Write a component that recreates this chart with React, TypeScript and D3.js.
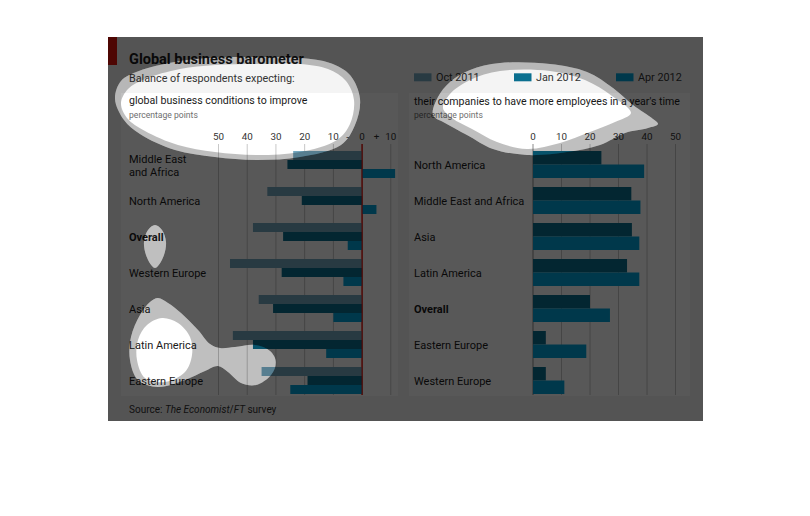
import * as d3 from 'd3';

// Balance of respondents, percentage points
const leftCategories = ['Middle East and Africa', 'North America', 'Overall', 'Western Europe', 'Asia', 'Latin America', 'Eastern Europe'];
const leftOct2011 = [-24, -33, -38, -46, -36, -45, -35];
const leftJan2012 = [-26, -21, -27.5, -28, -31, -38, -19];
const leftApr2012 = [11.5, 5, -5, -6.5, -10, -12.5, -25];

const rightCategories = ['North America', 'Middle East and Africa', 'Asia', 'Latin America', 'Overall', 'Eastern Europe', 'Western Europe'];
const rightJan2012 = [24, 34.5, 34.7, 33, 20, 4.5, 4.5];
const rightApr2012 = [39, 37.7, 37.3, 37.3, 27, 18.7, 11];

const SERIES = ['Oct 2011', 'Jan 2012', 'Apr 2012'];
const COLORS = ['#74a8c0', '#0a6f8f', '#00a3d9'];
const leftTicks = [-50, -40, -30, -20, -10, 0, 10];
const rightTicks = [0, 10, 20, 30, 40, 50];

// highlight shapes drawn over the dimmed picture
type Pt = [number, number];
const blobs: { halo: Pt[]; core?: Pt[] }[] = [
  {
    halo: [[115, 99], [121, 81], [139, 71], [175, 62], [208, 58], [258, 57], [301, 58], [330, 63], [350, 75], [360, 99], [355, 125], [341, 145], [300, 157], [258, 160], [215, 157], [175, 150], [140, 134], [124, 120]],
    core: [[121, 103], [128, 89], [145, 79], [180, 69], [215, 65], [258, 64], [300, 64], [328, 69], [346, 81], [354, 100], [350, 124], [337, 140], [300, 152], [258, 155], [215, 152], [178, 145], [145, 131], [127, 118]],
  },
  {
    halo: [[433, 115], [438, 97], [450, 82], [470, 70], [500, 63], [550, 64], [587, 72], [613, 88], [633, 105], [653, 119], [658, 124], [648, 128], [625, 133], [600, 145], [567, 152], [527, 155], [493, 149], [467, 135], [445, 123]],
    core: [[443, 108], [450, 94], [470, 80], [500, 71], [550, 71], [585, 80], [612, 96], [631, 113], [615, 122], [590, 132], [560, 143], [527, 149], [497, 142], [472, 129], [452, 118]],
  },
  {
    halo: [[155, 225], [162, 230], [166, 242], [164, 255], [158, 266], [155, 268], [152, 266], [146, 255], [144, 242], [148, 230]],
  },
  {
    halo: [[158, 298], [168, 303], [181, 313], [198, 330], [210, 344], [220, 348], [235, 347], [255, 345], [270, 351], [276, 362], [271, 375], [256, 385], [241, 383], [228, 372], [218, 366], [205, 371], [185, 380], [158, 387], [138, 380], [130, 360], [131, 337], [140, 315], [150, 302]],
    core: [[162, 318], [178, 323], [190, 337], [192, 355], [185, 372], [165, 382], [145, 378], [137, 360], [138, 340], [147, 325]],
  },
];

const FONT = 'Roboto, "Noto Sans", sans-serif';
const TEXT = '#1a1a1a';
const GREY_TEXT = '#6e6e6e';
const GRID = '#c8c8c8';
const RED = '#e3120b';

export default function App() {
  const W = 810;
  const H = 516;

  const xL = d3.scaleLinear().domain([-50, 10]).range([218.5, 390.8]);
  const xR = d3.scaleLinear().domain([0, 50]).range([533, 675.5]);

  const yL = d3.scaleBand<string>().domain(leftCategories).range([142, 403]).paddingInner(0.25).paddingOuter(0.25);
  const yR = d3.scaleBand<string>().domain(rightCategories).range([142, 403]).paddingInner(0.25).paddingOuter(0.25);
  const subL = d3.scaleBand<string>().domain(SERIES).range([0, yL.bandwidth()]);
  const subR = d3.scaleBand<string>().domain(SERIES.slice(1)).range([0, yR.bandwidth()]);

  const leftSeries = [leftOct2011, leftJan2012, leftApr2012];
  const rightSeries = [rightJan2012, rightApr2012];

  const line = d3.line().curve(d3.curveCatmullRomClosed.alpha(0.5));
  const frame = 'M108,37H703V421H108Z';
  const dimPath = frame + blobs.map(b => line(b.halo)).join('');
  const rings = blobs.map(b => line(b.halo) + (b.core ? line(b.core) : '')).join('');

  const labelLines = (c: string, split: boolean) =>
    split && c === 'Middle East and Africa' ? ['Middle East', 'and Africa'] : [c];

  return (
    <svg width={W} height={H} style={{ position: 'absolute', left: 0, top: 0 }} fontFamily={FONT}>
      <rect x={0} y={0} width={W} height={H} fill="#ffffff" />
      <rect x={108} y={37} width={595} height={384} fill="#f4f4f4" />
      <rect x={108} y={37} width={9} height={28} fill={RED} />
      <rect x={121} y={93} width={277} height={303} fill="#ffffff" />
      <rect x={409} y={93} width={281} height={303} fill="#ffffff" />

      <text x={129} y={63.5} fontSize={14.5} fontWeight={700} fill={TEXT}>Global business barometer</text>
      <text x={129} y={81.5} fontSize={10.8} fill="#333">Balance of respondents expecting:</text>

      {/* legend */}
      {SERIES.map((s, i) => {
        const lx = [414, 514, 616][i];
        return (
          <g key={s}>
            <rect x={lx} y={73.3} width={17.5} height={8} fill={COLORS[i]} />
            <text x={lx + 22} y={81.3} fontSize={10.8} fill="#333">{s}</text>
          </g>
        );
      })}

      {/* left chart */}
      <text x={129} y={103.7} fontSize={10.6} fill={TEXT}>global business conditions to improve</text>
      <text x={129} y={117.5} fontSize={8.6} fill={GREY_TEXT}>percentage points</text>
      {leftTicks.map(t => (
        <g key={t}>
          <line x1={xL(t)} x2={xL(t)} y1={144} y2={395} stroke={t === 0 ? RED : GRID} strokeWidth={1} />
          <text x={xL(t)} y={140} fontSize={9.8} textAnchor="middle" fill="#333">{Math.abs(t)}</text>
        </g>
      ))}
      <text x={xL(-5)} y={140} fontSize={9.8} textAnchor="middle" fill="#333">-</text>
      <text x={xL(5)} y={140} fontSize={9.8} textAnchor="middle" fill="#333">+</text>
      {leftCategories.map((c, ci) => (
        <g key={c}>
          {leftSeries.map((vals, si) => {
            const v = vals[ci];
            return (
              <rect key={si} x={Math.min(xL(v), xL(0))} y={(yL(c) ?? 0) + (subL(SERIES[si]) ?? 0)}
                width={Math.abs(xL(v) - xL(0))} height={subL.bandwidth()} fill={COLORS[si]} />
            );
          })}
          {labelLines(c, true).map((ln, li, arr) => (
            <text key={li} x={129} fontSize={11} fontWeight={c === 'Overall' ? 700 : 400} fill={TEXT}
              y={(yL(c) ?? 0) + yL.bandwidth() / 2 + (arr.length === 1 ? 4 : li === 0 ? -1.5 : 11.2)}>{ln}</text>
          ))}
        </g>
      ))}
      <line x1={xL(0)} x2={xL(0)} y1={144} y2={395} stroke={RED} strokeWidth={1} />

      {/* right chart */}
      <text x={414} y={104.5} fontSize={10.6} fill={TEXT}>their companies to have more employees in a year's time</text>
      <text x={414} y={117.5} fontSize={8.6} fill={GREY_TEXT}>percentage points</text>
      {rightTicks.map(t => (
        <g key={t}>
          <line x1={xR(t)} x2={xR(t)} y1={144} y2={395} stroke={t === 0 ? '#8a8a8a' : GRID} strokeWidth={1} />
          <text x={xR(t)} y={140} fontSize={9.8} textAnchor="middle" fill="#333">{t}</text>
        </g>
      ))}
      {rightCategories.map((c, ci) => (
        <g key={c}>
          {rightSeries.map((vals, si) => (
            <rect key={si} x={xR(0)} y={(yR(c) ?? 0) + (subR(SERIES[si + 1]) ?? 0)}
              width={xR(vals[ci]) - xR(0)} height={subR.bandwidth()} fill={COLORS[si + 1]} />
          ))}
          <text x={414} y={(yR(c) ?? 0) + yR.bandwidth() / 2 + 4} fontSize={11}
            fontWeight={c === 'Overall' ? 700 : 400} fill={TEXT}>{c}</text>
        </g>
      ))}

      <text x={129} y={413} fontSize={10} fill="#333">
        Source: <tspan fontStyle="italic">The Economist</tspan>/<tspan fontStyle="italic">FT</tspan> survey
      </text>

      {/* dimming layer with highlighted holes */}
      <path d={dimPath} fill="#000" fillOpacity={0.655} fillRule="evenodd" />
      <path d={rings} fill="#000" fillOpacity={0.25} fillRule="evenodd" />
    </svg>
  );
}
